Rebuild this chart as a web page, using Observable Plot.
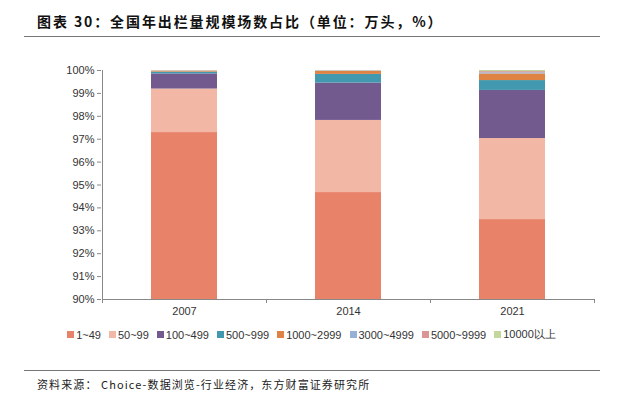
<!DOCTYPE html>
<html>
<head>
<meta charset="utf-8">
<script src="https://cdn.jsdelivr.net/npm/d3@7"></script>
<script src="https://cdn.jsdelivr.net/npm/@observablehq/plot@0.6"></script>
<style>
  html, body { margin: 0; padding: 0; background: #fff; }
  #wrap { position: relative; width: 623px; height: 395px; overflow: hidden; font-family: "Liberation Sans", Arial, sans-serif; }
  #title { position: absolute; left: 37px; top: 11px; font-family: "Noto Sans CJK SC", sans-serif; font-weight: bold; font-size: 14px; color: #111; letter-spacing: 1.9px; }
  #tline { position: absolute; left: 24px; top: 36px; width: 576px; height: 0; border-top: 1.5px solid #777; }
  #chart { position: absolute; left: 0; top: 40px; }
  #legend { position: absolute; left: 0; top: 327px; width: 623px; display: flex; justify-content: center; gap: 8px; font-size: 11px; color: #333; }
  #legend .it { display: flex; align-items: center; white-space: nowrap; }
  #legend .sw { width: 7px; height: 7px; margin-right: 2px; }
  #fline { position: absolute; left: 24px; top: 370px; width: 576px; height: 0; border-top: 1px solid #777; }
  #source { position: absolute; left: 37px; top: 376px; font-family: "Noto Sans CJK SC", sans-serif; font-size: 11px; color: #222; letter-spacing: 1.1px; }
</style>
</head>
<body>
<div id="wrap">
  <div id="title"></div>
  <div id="tline"></div>
  <div id="chart"></div>
  <div id="legend"></div>
  <div id="fline"></div>
  <div id="source"></div>
</div>
<script>
const titleText = "图表 30：全国年出栏量规模场数占比（单位：万头，%）";
const sourceText = "资料来源： Choice-数据浏览-行业经济，东方财富证券研究所";
const years = ["2007", "2014", "2021"];
const groups = ["1~49", "50~99", "100~499", "500~999", "1000~2999", "3000~4999", "5000~9999", "10000以上"];
const colors = ["#E8836A", "#F2B8A5", "#72598E", "#4198AF", "#DE8344", "#97B0D8", "#D99694", "#C3D69B"];
// share (%) of each scale group per year
const v2007 = [97.29, 1.90, 0.66, 0.08, 0.04, 0.01, 0.01, 0.01];
const v2014 = [94.67, 3.15, 1.63, 0.38, 0.13, 0.02, 0.01, 0.01];
const v2021 = [93.49, 3.54, 2.10, 0.43, 0.29, 0.05, 0.05, 0.05];
const yTicks = [90, 91, 92, 93, 94, 95, 96, 97, 98, 99, 100];

const series = [v2007, v2014, v2021];
const data = [];
years.forEach((yr, i) => groups.forEach((g, j) => data.push({year: yr, group: g, value: series[i][j]})));

document.getElementById("title").textContent = titleText;
document.getElementById("source").textContent = sourceText;

// custom mark: y axis line and x category boundary ticks, positioned with the plot's scales
function axisLines(index, scales) {
  const x = scales.x, y = scales.y;
  const step = x.step(), bw = x.bandwidth();
  const y0 = y(90), y1 = y(100);
  const g = d3.create("svg:g").attr("stroke", "#888").attr("fill", "none");
  const bounds = years.map(v => x(v) - (step - bw) / 2);
  bounds.push(bounds[bounds.length - 1] + step);
  g.append("line").attr("x1", bounds[0] + 0.5).attr("x2", bounds[0] + 0.5).attr("y1", y0).attr("y2", y1);
  g.append("line").attr("x1", bounds[0]).attr("x2", bounds[bounds.length - 1]).attr("y1", y0 + 0.5).attr("y2", y0 + 0.5);
  bounds.forEach(b => g.append("line").attr("x1", b + 0.5).attr("x2", b + 0.5).attr("y1", y0).attr("y2", y0 + 4));
  return g.node();
}

const plot = Plot.plot({
  width: 623,
  height: 280,
  marginTop: 30,
  marginBottom: 21,
  marginLeft: 101,
  marginRight: 29,
  style: {fontFamily: "Liberation Sans, Arial, sans-serif", fontSize: "11px", color: "#333", background: "#fff"},
  x: {domain: years, paddingInner: 0.6, paddingOuter: 0.3, label: null},
  y: {domain: [90, 100], label: null},
  color: {domain: groups, range: colors},
  marks: [
    Plot.barY(data, Plot.stackY({x: "year", y: "value", fill: "group", order: groups, clip: true})),
    Plot.axisY({ticks: yTicks, tickFormat: d => d + "%", tickSize: 4, tickPadding: 3, stroke: "#888", fill: "#333"}),
    Plot.axisX({tickSize: 0, tickPadding: 8, fill: "#333"}),
    axisLines
  ]
});
document.getElementById("chart").appendChild(plot);

const lg = d3.select("#legend");
groups.forEach((g, i) => {
  const it = lg.append("div").attr("class", "it");
  it.append("div").attr("class", "sw").style("background", colors[i]);
  it.append("span").text(g);
});
</script>
</body>
</html>
